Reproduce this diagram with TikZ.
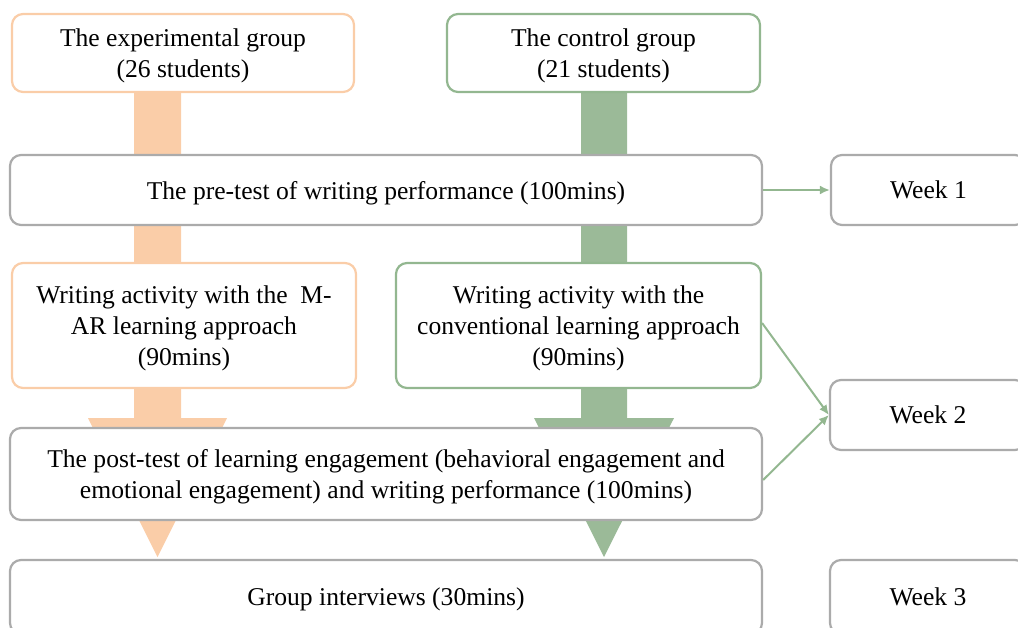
\documentclass[tikz,border=0pt]{standalone}
\usepackage{fontspec}
\setmainfont{Liberation Serif}
\usetikzlibrary{arrows.meta,calc}
\definecolor{boxgray}{HTML}{ABABAB}
\definecolor{peach}{HTML}{FACDA8}
\definecolor{sage}{HTML}{9BBA98}
\definecolor{sageline}{HTML}{93B790}
\begin{document}
\begin{tikzpicture}[x=1pt,y=-1pt,
  every node/.style={font=\fontsize{25.6}{31}\selectfont, align=center, inner sep=0pt, text depth=-3pt},
  panel/.style={draw=boxgray, line width=2.2pt, rounded corners=11pt, fill=white},
  expbox/.style={panel, draw=peach},
  ctlbox/.style={panel, draw=sageline},
  link/.style={draw=sageline, line width=2pt, -{Latex[length=10pt,width=9pt]}}]
\useasboundingbox (0,0) rectangle (1018,627);

% block arrows running behind the boxes
\coordinate (eTop) at (157.5,92);
\coordinate (eTip) at (157.5,557);
\coordinate (cTop) at (604,92);
\coordinate (cTip) at (604,557);
\fill[peach] ($(eTop)+(-23.5,0)$) -- ($(eTop)+(23.5,0)$) -- ($(eTop)+(23.5,326)$)
  -- ($(eTop)+(69.5,326)$) -- (eTip) -- ($(eTop)+(-69.5,326)$) -- ($(eTop)+(-23.5,326)$) -- cycle;
\fill[sage] ($(cTop)+(-23,0)$) -- ($(cTop)+(23,0)$) -- ($(cTop)+(23,326)$)
  -- ($(cTop)+(70,326)$) -- (cTip) -- ($(cTop)+(-70,326)$) -- ($(cTop)+(-23,326)$) -- cycle;

% groups
\node[expbox, minimum width=342pt, minimum height=78pt] (exp) at (183,53)
  {The experimental group\\(26 students)};
\node[ctlbox, minimum width=313pt, minimum height=78pt] (ctl) at (603.5,53)
  {The control group\\(21 students)};

% procedure
\node[panel, minimum width=752pt, minimum height=70pt] (pre) at (386,190)
  {The pre-test of writing performance (100mins)};
\node[expbox, minimum width=344pt, minimum height=125pt] (mar) at (184,325.5)
  {Writing activity with the\ \ M-\\AR learning approach\\(90mins)};
\node[ctlbox, minimum width=365pt, minimum height=125pt] (conv) at (578.5,325.5)
  {Writing activity with the\\conventional learning approach\\(90mins)};
\node[panel, minimum width=752pt, minimum height=92pt] (post) at (386,474)
  {The post-test of learning engagement (behavioral engagement and\\emotional engagement) and writing performance (100mins)};
\node[panel, minimum width=752pt, minimum height=74pt] (gi) at (386,597)
  {Group interviews (30mins)};

% schedule
\node[panel, minimum width=195pt, minimum height=70pt] (w1) at (928.5,190) {Week 1};
\node[panel, minimum width=196pt, minimum height=70pt] (w2) at (928,415) {Week 2};
\node[panel, minimum width=196pt, minimum height=74pt] (w3) at (928,597) {Week 3};

% timing links
\draw[link] (pre.east) -- (w1.west);
\draw[link] ($(conv.east)+(0,-2.5)$) -- (w2.west);
\draw[link] ($(post.east)+(0,6)$) -- (w2.west);
\end{tikzpicture}
\end{document}
